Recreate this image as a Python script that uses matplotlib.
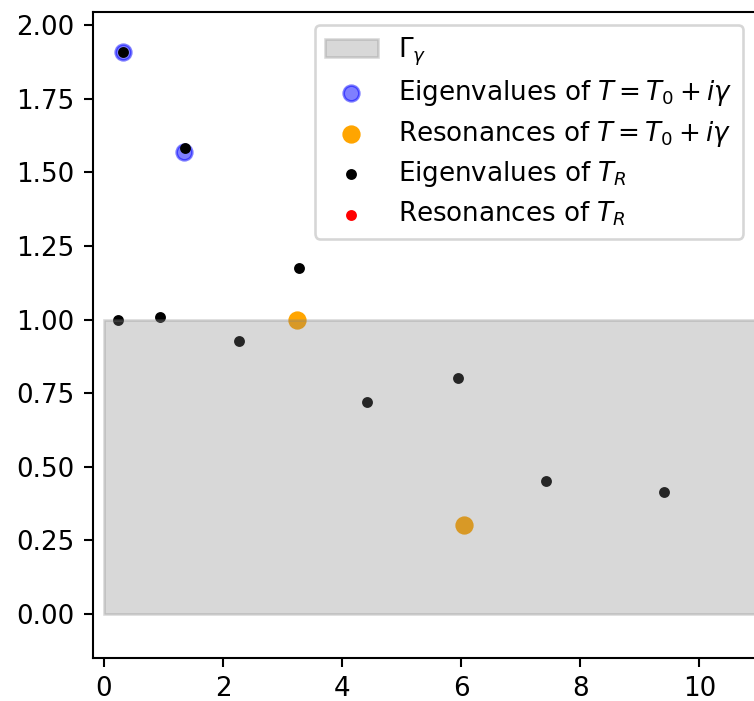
import matplotlib

matplotlib.use("Agg")
import matplotlib.pyplot as plt  # noqa: E402
from matplotlib.patches import Rectangle  # noqa: E402

# eigenvalues / resonances of T = T0 + i*gamma
eig_T_re = [0.32, 1.34]
eig_T_im = [1.908, 1.569]
res_T_re = [3.24, 6.05]
res_T_im = [1.0, 0.301]

# eigenvalues / resonances of T_R
eig_TR_re = [0.32, 1.36, 3.27, 0.23, 0.94, 2.265, 4.41, 5.95, 7.42, 9.40]
eig_TR_im = [1.908, 1.581, 1.176, 0.998, 1.01, 0.926, 0.72, 0.801, 0.451, 0.414]
res_TR_re = []
res_TR_im = []

# region Gamma_gamma
gamma_x0, gamma_y0 = 0.0, 0.0
gamma_w, gamma_h = 12.0, 1.0

DPI = 188
fig = plt.figure(figsize=(754 / DPI, 701 / DPI), dpi=DPI)
ax = fig.add_axes([93 / 754, 43 / 701, 663 / 754, 646 / 701])

rect = Rectangle((gamma_x0, gamma_y0), gamma_w, gamma_h, color="gray",
                 alpha=0.3, zorder=5, label=r"$\Gamma_\gamma$")
ax.add_patch(rect)
ax.scatter(eig_T_re, eig_T_im, s=36, c="blue", alpha=0.5,
           label=r"Eigenvalues of $T = T_0 + i\gamma$")
ax.scatter(res_T_re, res_T_im, s=36, c="orange",
           label=r"Resonances of $T = T_0 + i\gamma$")
ax.scatter(eig_TR_re, eig_TR_im, s=10, c="black",
           label=r"Eigenvalues of $T_R$")
ax.scatter(res_TR_re, res_TR_im, s=10, c="red",
           label=r"Resonances of $T_R$")

ax.set_xlim(-0.185, 10.95)
ax.set_ylim(-0.149, 2.044)
ax.set_yticks([0, 0.25, 0.5, 0.75, 1.0, 1.25, 1.5, 1.75, 2.0])
ax.legend(loc="upper right", labelspacing=0.4)

fig.savefig("out.png", dpi=DPI)
